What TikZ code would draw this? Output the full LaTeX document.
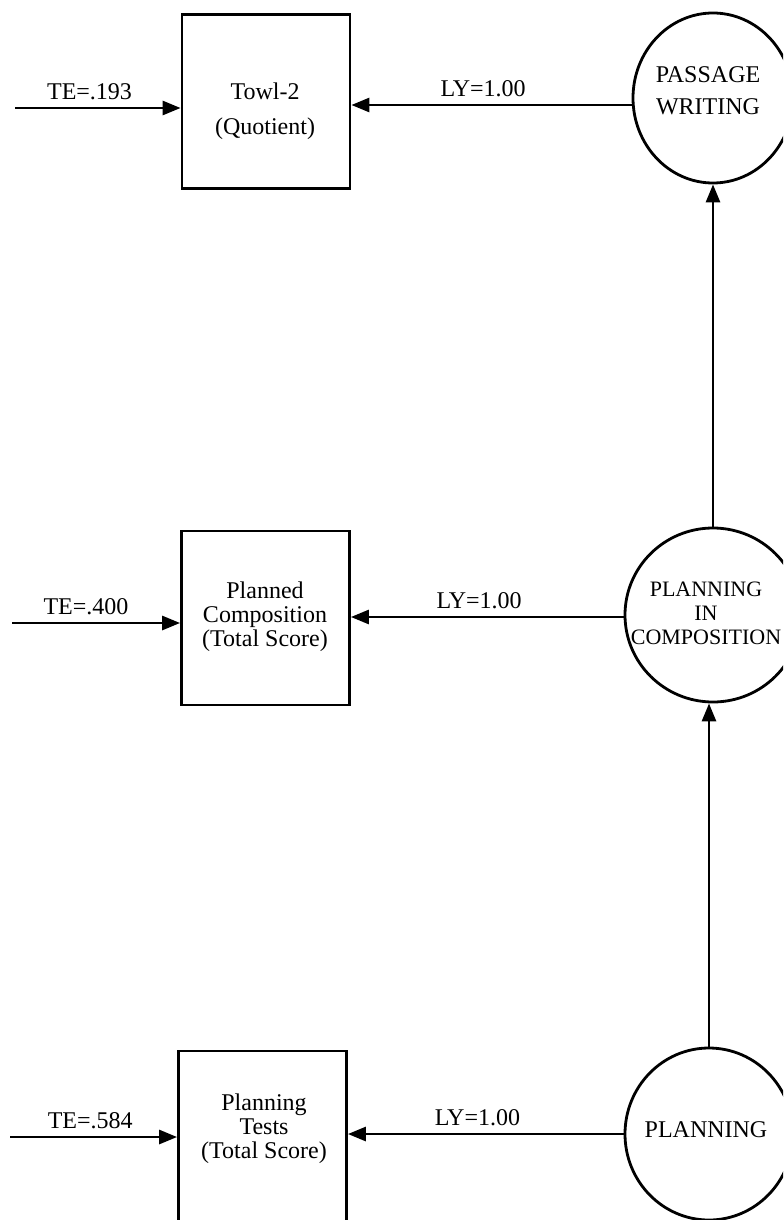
\documentclass[tikz,border=0pt]{standalone}
\usepackage{fontspec}
\setmainfont{Liberation Serif}
\usetikzlibrary{arrows.meta,positioning,shapes.geometric}

\begin{document}
\begin{tikzpicture}[x=0.5pt,y=-0.5pt,line width=1.4pt,
   font=\fontsize{12}{12}\selectfont,
   box/.style={draw,minimum width=84pt,minimum height=87pt,inner sep=0pt},
   latent/.style={draw,ellipse,minimum width=86pt,minimum height=86pt,inner sep=0pt},
   txt/.style={align=center,inner sep=0pt},
   arr/.style={-{Triangle[length=9pt,width=7pt]}},
   lbl/.style={above,inner sep=3.5pt}]
  \useasboundingbox (0,0) rectangle (783,1220);
  \clip (0,0) rectangle (783,1220);

  % observed measures
  \node[box] (towl) at (266,101.5) {};
  \node[box] (comp) at (265.5,618) {};
  \node[box] (tests) at (262.5,1138) {};
  \node[txt] (towltxt) at (265,111) {Towl-2\\[5.5pt](Quotient)};
  \node[txt] (comptxt) at (265,617) {Planned\\Composition\\(Total Score)};
  \node[txt] (teststxt) at (264,1129) {Planning\\Tests\\(Total Score)};

  % latent factors
  \node[latent,minimum width=80pt,minimum height=85pt] (pw) at (713,98) {};
  \node[latent,minimum width=88pt,minimum height=87pt] (pic) at (713,615) {};
  \node[latent,minimum width=84pt] (plan) at (709,1134) {};
  \node[txt] (pwtxt) at (708,91) {PASSAGE\\[4pt]WRITING};
  \node[txt,font=\fontsize{11}{12}\selectfont] (pictxt) at (706,613)
    {PLANNING\\IN\\COMPOSITION};
  \node[txt] (plantxt) at (706,1130) {PLANNING};

  % error terms
  \coordinate (e1) at (15,108);
  \coordinate (e2) at (12,623);
  \coordinate (e3) at (10,1137);
  \draw[arr] (e1) -- (e1 -| towl.west) node[lbl,pos=.45] {TE=.193};
  \draw[arr] (e2) -- (e2 -| comp.west) node[lbl,pos=.44] {TE=.400};
  \draw[arr] (e3) -- (e3 -| tests.west) node[lbl,pos=.48] {TE=.584};

  % loadings
  \draw[arr] ([yshift=-3.5pt]pw.west) -- ([yshift=-3.5pt]pw.west -| towl.east)
    node[lbl,pos=.53] {LY=1.00};
  \draw[arr] ([yshift=-1pt]pic.west) -- ([yshift=-1pt]pic.west -| comp.east)
    node[lbl,pos=.53] {LY=1.00};
  \draw[arr] (plan.west) -- (plan.west -| tests.east)
    node[lbl,pos=.53] {LY=1.00};

  % paths between factors
  \draw[arr] (pic.north) -- (pw.south);
  \draw[arr] (plan.north) -- (plan.north |- pic.south);
\end{tikzpicture}
\end{document}
